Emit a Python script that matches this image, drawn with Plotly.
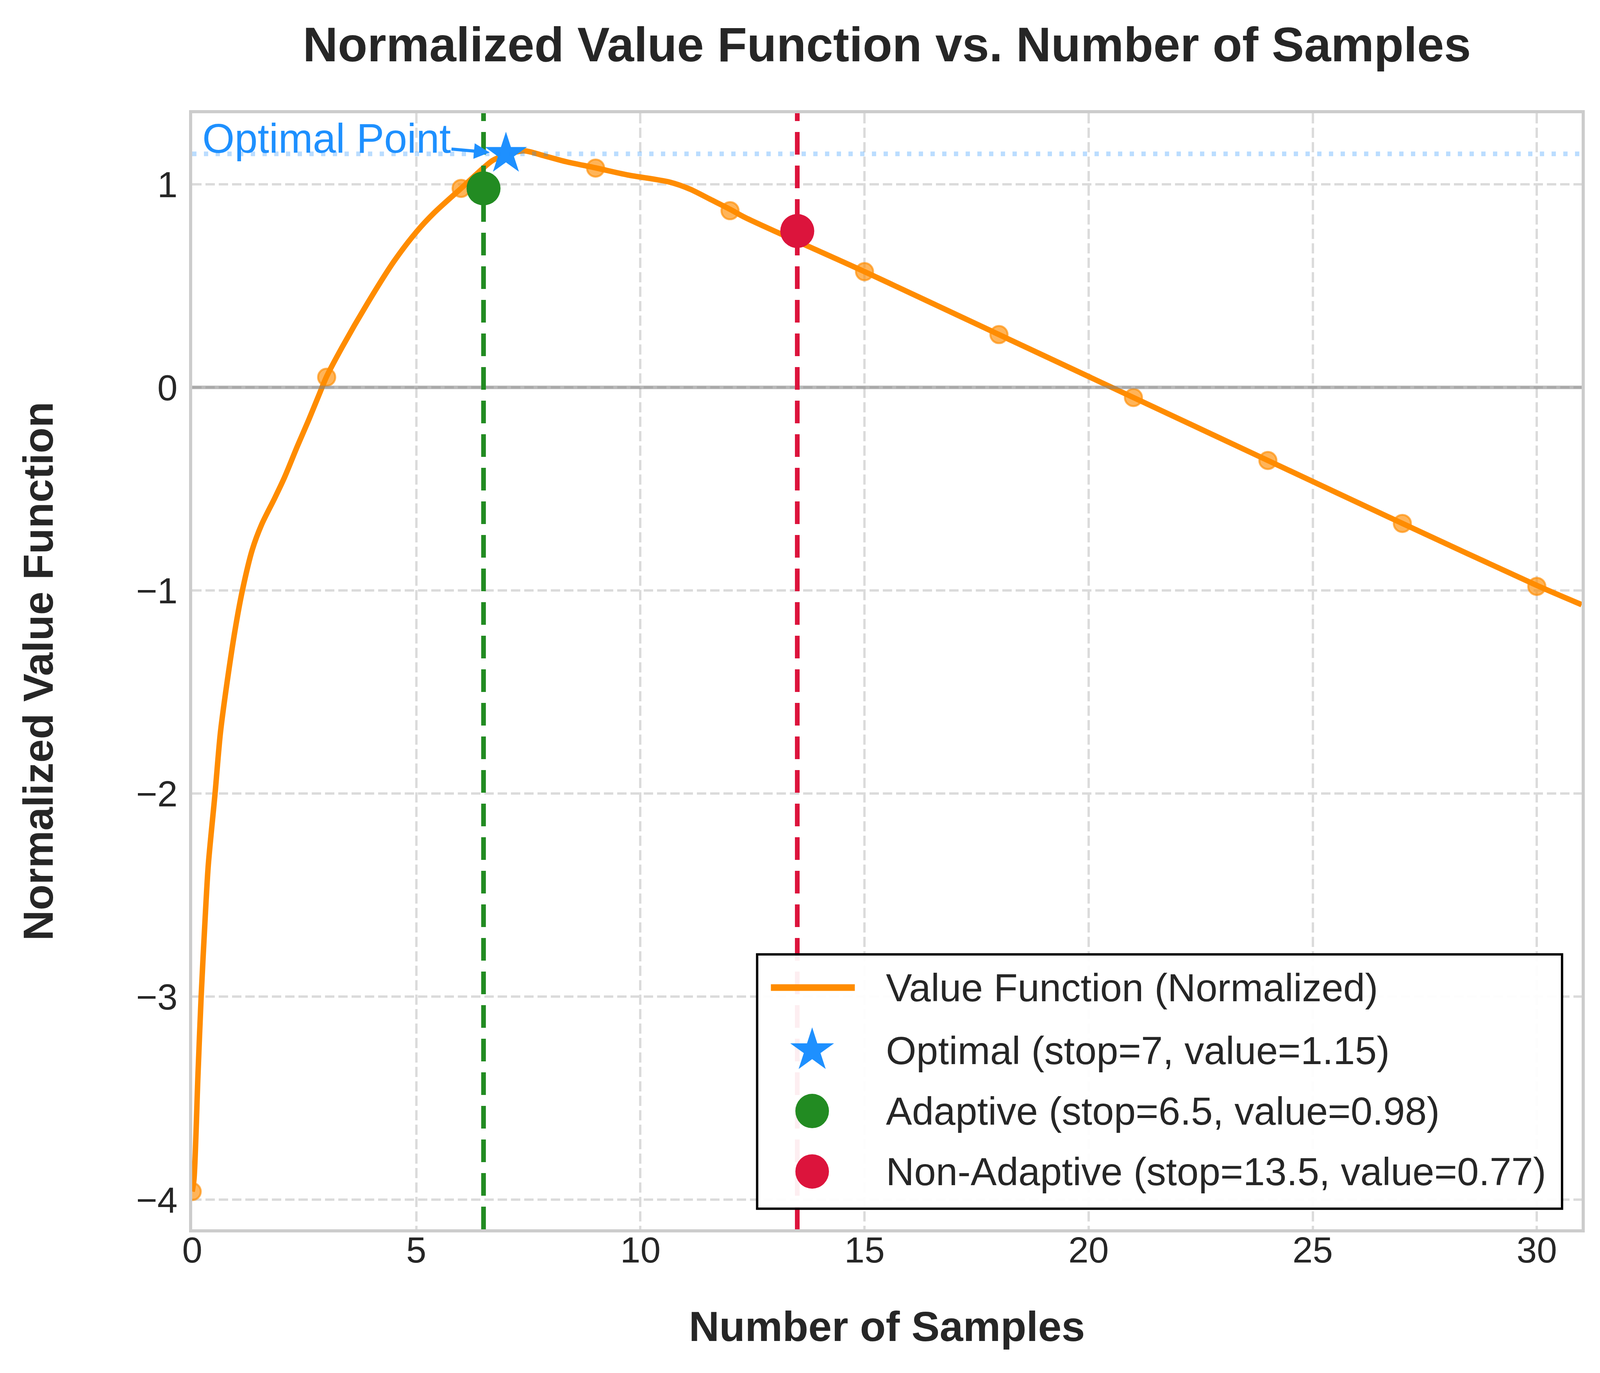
import math
import plotly.graph_objects as go

# ---------------- data ----------------
sample_x = [0, 3, 6, 9, 12, 15, 18, 21, 24, 27, 30]
sample_y = [-3.96, 0.05, 0.98, 1.08, 0.87, 0.57, 0.26, -0.05, -0.36, -0.67, -0.98]

curve_x = [0, 0.04, 0.13, 0.2, 0.29, 0.36, 0.51, 0.63, 0.78, 0.96, 1.12, 1.34,
           1.55, 1.84, 2.06, 2.35, 2.6, 2.84, 3.0, 3.35, 3.9, 4.5, 5.0, 5.4,
           6.0, 6.7, 7.0, 7.4, 7.86, 8.33, 9.0, 9.72, 10.65, 11.11, 11.57,
           12.0, 12.35, 15, 18, 21, 24, 27, 30, 31]
curve_y = [-3.96, -3.90, -3.38, -3.0, -2.61, -2.35, -2.0, -1.70, -1.45, -1.19,
           -1.0, -0.80, -0.675, -0.546, -0.443, -0.288, -0.16, -0.031, 0.054,
           0.20, 0.41, 0.62, 0.765, 0.86, 0.98, 1.117, 1.145, 1.165, 1.14,
           1.112, 1.081, 1.046, 1.011, 0.976, 0.925, 0.877, 0.835, 0.57, 0.26,
           -0.05, -0.36, -0.67, -0.975, -1.07]

optimal_stop, optimal_value = 7, 1.15
adaptive_stop, adaptive_value = 6.5, 0.98
nonadaptive_stop, nonadaptive_value = 13.5, 0.77

x_ticks = [0, 5, 10, 15, 20, 25, 30]
y_ticks = [-4, -3, -2, -1, 0, 1]
y_tick_labels = ["\u22124", "\u22123", "\u22122", "\u22121", "0", "1"]

line_label = "Value Function (Normalized)"
optimal_label = f"Optimal (stop={optimal_stop}, value={optimal_value})"
adaptive_label = f"Adaptive (stop={adaptive_stop}, value={adaptive_value})"
nonadaptive_label = f"Non-Adaptive (stop={nonadaptive_stop}, value={nonadaptive_value})"

# ---------------- styling ----------------
FONT = "Liberation Sans, Arial, sans-serif"
TXT = "#262626"
ORANGE = "#FF8C00"
BLUE = "#1E90FF"
GREEN = "#228B22"
RED = "#DC143C"
W, H = 4096, 3516          # size of the browser viewport that is photographed

fig = go.Figure()

fig.add_trace(go.Scatter(
    x=sample_x, y=sample_y, mode="markers", showlegend=False,
    marker=dict(size=44, color="rgba(255,140,0,0.65)",
                line=dict(color="rgba(255,140,0,0.65)", width=5)),
    hoverinfo="skip"))

fig.add_trace(go.Scatter(
    x=curve_x, y=curve_y, mode="lines", name=line_label, showlegend=False,
    line=dict(color=ORANGE, width=14, shape="spline", smoothing=0.8)))

fig.add_trace(go.Scatter(
    x=[optimal_stop], y=[optimal_value], mode="markers", name=optimal_label,
    showlegend=False,
    marker=dict(symbol="star", size=81, color=BLUE, line=dict(width=0))))

fig.add_trace(go.Scatter(
    x=[adaptive_stop], y=[adaptive_value], mode="markers", name=adaptive_label,
    showlegend=False,
    marker=dict(symbol="circle", size=87, color=GREEN, line=dict(width=0))))

fig.add_trace(go.Scatter(
    x=[nonadaptive_stop], y=[nonadaptive_value], mode="markers", name=nonadaptive_label,
    showlegend=False,
    marker=dict(symbol="circle", size=87, color=RED, line=dict(width=0))))

# reference lines
fig.add_shape(type="line", xref="paper", yref="y", x0=0, x1=1, y0=0, y1=0,
              line=dict(color="rgba(128,128,128,0.55)", width=9), layer="above")
fig.add_shape(type="line", xref="paper", yref="y", x0=0, x1=1,
              y0=optimal_value, y1=optimal_value,
              line=dict(color="rgba(30,144,255,0.3)", width=12, dash="11px,19px"),
              layer="above")
fig.add_shape(type="line", xref="x", yref="paper", x0=adaptive_stop, x1=adaptive_stop,
              y0=0, y1=1, line=dict(color=GREEN, width=12, dash="58px,28px"),
              layer="above")
fig.add_shape(type="line", xref="x", yref="paper", x0=nonadaptive_stop, x1=nonadaptive_stop,
              y0=0, y1=1, line=dict(color=RED, width=12, dash="58px,28px"),
              layer="above")

fig.add_annotation(
    x=optimal_stop, y=optimal_value, xref="x", yref="y",
    ax=3.0, ay=1.227, axref="x", ayref="y",
    text="Optimal Point", showarrow=True, arrowhead=2, arrowsize=1,
    arrowwidth=8, arrowcolor=BLUE, standoff=42,
    font=dict(family=FONT, size=106, color=BLUE))

# ---------------- legend (box, symbols, texts) ----------------
LEG_X0, LEG_X1, LEG_Y0, LEG_Y1 = 0.4066, 0.9859, 0.0185, 0.2463
LEG_ROWS = [0.2166, 0.1603, 0.1060, 0.0518]
LEG_SYM_X, LEG_LINE_X0, LEG_LINE_X1, LEG_TEXT_X = 0.4462, 0.4165, 0.4769, 0.4986

fig.add_shape(type="rect", xref="paper", yref="paper",
              x0=LEG_X0, x1=LEG_X1, y0=LEG_Y0, y1=LEG_Y1,
              fillcolor="rgba(255,255,255,0.93)", line=dict(color="black", width=6),
              layer="above")
fig.add_shape(type="line", xref="paper", yref="paper",
              x0=LEG_LINE_X0, x1=LEG_LINE_X1, y0=LEG_ROWS[0], y1=LEG_ROWS[0],
              line=dict(color=ORANGE, width=17), layer="above")
R_out, R_in = 59, 59 * 0.382
star_pts = []
for i in range(10):
    ang = math.radians(90 + 36 * i)
    rad = R_out if i % 2 == 0 else R_in
    star_pts.append((rad * math.cos(ang), rad * math.sin(ang)))
star_path = "M" + " L".join(f"{px:.1f},{py:.1f}" for px, py in star_pts) + " Z"
fig.add_shape(type="path", xref="paper", yref="paper", xsizemode="pixel", ysizemode="pixel",
              xanchor=LEG_SYM_X, yanchor=LEG_ROWS[1], path=star_path,
              fillcolor=BLUE, line=dict(width=0), layer="above")
for row, col in ((LEG_ROWS[2], GREEN), (LEG_ROWS[3], RED)):
    fig.add_shape(type="circle", xref="paper", yref="paper", xsizemode="pixel",
                  ysizemode="pixel", xanchor=LEG_SYM_X, yanchor=row,
                  x0=-43, x1=43, y0=-44, y1=44, fillcolor=col, line=dict(width=0),
                  layer="above")
for row, label in zip(LEG_ROWS, [line_label, optimal_label, adaptive_label, nonadaptive_label]):
    fig.add_annotation(xref="paper", yref="paper", x=LEG_TEXT_X, y=row,
                       xanchor="left", yanchor="middle", showarrow=False, text=label,
                       font=dict(family=FONT, size=100, color=TXT))

axis_common = dict(
    showgrid=True, gridcolor="#dbdbdb", gridwidth=6,
    showline=True, linecolor="#cccccc", linewidth=8, mirror=True,
    zeroline=False, ticks="",
    tickfont=dict(family=FONT, size=93, color=TXT),
)

fig.update_xaxes(**axis_common, range=[0, 31], tickvals=x_ticks,
                 griddash="26px,11px", ticklabelstandoff=-35,
                 title=dict(text="Number of Samples", standoff=110,
                            font=dict(family=FONT, size=108, color=TXT, weight="bold")))
fig.update_yaxes(**axis_common, range=[-4.146, 1.35], tickvals=y_ticks,
                 ticktext=y_tick_labels, griddash="24px,10px", ticklabelstandoff=11,
                 title=dict(text="Normalized Value Function", standoff=180,
                            font=dict(family=FONT, size=108, color=TXT, weight="bold")))

fig.update_layout(
    width=W, height=H, showlegend=False,
    margin=dict(l=484, r=55, t=282, b=376, autoexpand=False),
    paper_bgcolor="white", plot_bgcolor="white",
    font=dict(family=FONT, color=TXT),
    title=dict(text="Normalized Value Function vs. Number of Samples",
               x=0.5, xref="paper", xanchor="center",
               y=1 - 106 / H, yref="container", yanchor="middle",
               font=dict(family=FONT, size=124, color=TXT, weight="bold")),
)

fig.write_html("out.html", config={"displayModeBar": False})
